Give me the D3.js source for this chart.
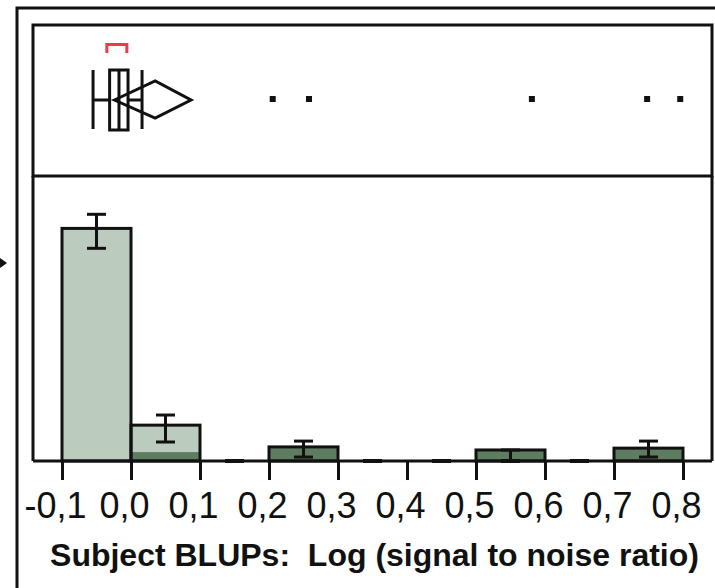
<!DOCTYPE html>
<html>
<head>
<meta charset="utf-8">
<script src="https://d3js.org/d3.v7.min.js"></script>
<style>
  body { margin: 0; background: #fff; }
  svg { display: block; font-family: "Liberation Sans", Arial, sans-serif; }
</style>
</head>
<body>
<svg id="chart" width="715" height="588"></svg>
<script>
// histogram bins (lower edge), width 0.1
var binStarts = [-0.1, 0.0, 0.1, 0.2, 0.3, 0.4, 0.5, 0.6, 0.7];
var binTotal  = [0.759, 0.117, 0, 0.046, 0, 0, 0.036, 0, 0.042];
var binDark   = [0, 0.029, 0, 0.046, 0, 0, 0.036, 0, 0.042];
var errLow    = [0.694, 0.062, 0, 0.013, 0, 0, 0, 0, 0.013];
var errHigh   = [0.805, 0.150, 0, 0.065, 0, 0, 0.036, 0, 0.065];

// outlier box plot summary
var boxStats = {lowWhisker: -0.055, q1: -0.031, median: -0.0174, q3: -0.0043, highWhisker: 0.016};
var meanDiamond = {lower: -0.024, mean: 0.035, upper: 0.087};
var shortestHalf = [-0.035, -0.006];
var outliers = [0.2054, 0.258, 0.581, 0.748, 0.796];

var tickValues = [-0.1, 0.0, 0.1, 0.2, 0.3, 0.4, 0.5, 0.6, 0.7, 0.8];
var axisTitle = "Subject BLUPs:  Log (signal to noise ratio)";

var svg;

document.addEventListener('DOMContentLoaded', function() {
  svg = d3.select('#chart');
  drawChart();
});

function drawChart() {
  var left = 33, right = 712, top = 25, split = 176, base = 461;
  var ink = "#111";

  var x = d3.scaleLinear()
    .domain([-0.1, 0.8])
    .range([62, 683]);

  var y = d3.scaleLinear()
    .domain([0, 0.93])
    .range([base, split]);

  var bins = binStarts.map(function(d, i) {
    return {lo: d, total: binTotal[i], dark: binDark[i], eLo: errLow[i], eHi: errHigh[i]};
  });

  // outer frame, cut off by the picture edge
  svg.append("path")
    .attr("d", "M17,588 V8 H715")
    .attr("fill", "none")
    .attr("stroke", ink)
    .attr("stroke-width", 3);

  // arrow from neighbouring panel
  svg.append("path")
    .attr("d", "M0,258 L7,263 L0,268 Z")
    .attr("fill", ink);

  // top panel frame
  svg.append("rect")
    .attr("x", left)
    .attr("y", top)
    .attr("width", right - left)
    .attr("height", split - top)
    .attr("fill", "none")
    .attr("stroke", ink)
    .attr("stroke-width", 3);

  // histogram panel sides
  svg.append("path")
    .attr("d", "M" + left + "," + base + " V" + split + " M" + right + "," + split + " V" + base)
    .attr("fill", "none")
    .attr("stroke", ink)
    .attr("stroke-width", 3);

  // bars
  var filled = bins.filter(function(d) { return d.total > 0; });

  svg.selectAll(".lightbar")
    .data(filled)
    .enter().append("rect")
    .attr("class", "lightbar")
    .attr("x", function(d) { return x(d.lo); })
    .attr("y", function(d) { return y(d.total); })
    .attr("width", function(d) { return x(d.lo + 0.1) - x(d.lo); })
    .attr("height", function(d) { return y(0) - y(d.total); })
    .attr("fill", "#bbcbbd");

  svg.selectAll(".darkbar")
    .data(filled.filter(function(d) { return d.dark > 0; }))
    .enter().append("rect")
    .attr("class", "darkbar")
    .attr("x", function(d) { return x(d.lo); })
    .attr("y", function(d) { return y(d.dark); })
    .attr("width", function(d) { return x(d.lo + 0.1) - x(d.lo); })
    .attr("height", function(d) { return y(0) - y(d.dark); })
    .attr("fill", "#5e7c60");

  svg.selectAll(".barframe")
    .data(filled)
    .enter().append("rect")
    .attr("class", "barframe")
    .attr("x", function(d) { return x(d.lo); })
    .attr("y", function(d) { return y(d.total); })
    .attr("width", function(d) { return x(d.lo + 0.1) - x(d.lo); })
    .attr("height", function(d) { return y(0) - y(d.total); })
    .attr("fill", "none")
    .attr("stroke", ink)
    .attr("stroke-width", 3);

  // baseline
  svg.append("line")
    .attr("x1", left).attr("x2", right)
    .attr("y1", base).attr("y2", base)
    .attr("stroke", ink)
    .attr("stroke-width", 3);

  // error bars
  var capW = 9.5;
  var err = svg.selectAll(".err")
    .data(bins)
    .enter().append("g")
    .attr("class", "err")
    .attr("stroke", ink)
    .attr("stroke-width", 3);

  err.append("line")
    .attr("x1", function(d) { return x(d.lo + 0.05); })
    .attr("x2", function(d) { return x(d.lo + 0.05); })
    .attr("y1", function(d) { return y(d.eLo); })
    .attr("y2", function(d) { return y(d.eHi); });

  err.append("line")
    .attr("x1", function(d) { return x(d.lo + 0.05) - capW; })
    .attr("x2", function(d) { return x(d.lo + 0.05) + capW; })
    .attr("y1", function(d) { return y(d.eHi); })
    .attr("y2", function(d) { return y(d.eHi); });

  err.append("line")
    .attr("x1", function(d) { return x(d.lo + 0.05) - capW; })
    .attr("x2", function(d) { return x(d.lo + 0.05) + capW; })
    .attr("y1", function(d) { return y(d.eLo); })
    .attr("y2", function(d) { return y(d.eLo); })
    .attr("stroke-width", function(d) { return d.eLo === 0 ? 4 : 3; });

  // x axis
  var locale = d3.formatLocale({decimal: ",", thousands: ".", grouping: [3], currency: ["", ""], minus: "-"});
  var fmt = locale.format(".1f");

  svg.append("g")
    .attr("transform", "translate(0," + base + ")")
    .call(d3.axisBottom(x)
      .tickValues(tickValues)
      .tickFormat(fmt)
      .tickSize(19)
      .tickSizeOuter(0))
    .call(g => g.select(".domain").remove())
    .call(g => g.selectAll(".tick line")
      .attr("stroke", ink)
      .attr("stroke-width", 3))
    .call(g => g.selectAll(".tick text")
      .attr("x", -7)
      .attr("y", 57)
      .attr("dy", 0)
      .attr("fill", ink)
      .attr("font-family", "'Liberation Sans', Arial, sans-serif")
      .attr("font-size", "36px"));

  svg.append("text")
    .attr("x", 374.5)
    .attr("y", 566)
    .attr("text-anchor", "middle")
    .attr("font-size", "32px")
    .attr("font-weight", "bold")
    .attr("fill", ink)
    .style("white-space", "pre")
    .text(axisTitle);

  // box plot panel
  var midY = 100;
  var box = svg.append("g")
    .attr("fill", "none")
    .attr("stroke", ink)
    .attr("stroke-width", 3);

  box.append("line")
    .attr("x1", x(boxStats.lowWhisker)).attr("x2", x(boxStats.q1))
    .attr("y1", midY).attr("y2", midY);
  box.append("line")
    .attr("x1", x(boxStats.q3)).attr("x2", x(boxStats.highWhisker))
    .attr("y1", midY).attr("y2", midY);
  box.append("line")
    .attr("x1", x(boxStats.lowWhisker)).attr("x2", x(boxStats.lowWhisker))
    .attr("y1", 70).attr("y2", 129);
  box.append("line")
    .attr("x1", x(boxStats.highWhisker)).attr("x2", x(boxStats.highWhisker))
    .attr("y1", 70).attr("y2", 129);
  box.append("rect")
    .attr("x", x(boxStats.q1))
    .attr("y", 70)
    .attr("width", x(boxStats.q3) - x(boxStats.q1))
    .attr("height", 60);
  box.append("line")
    .attr("x1", x(boxStats.median)).attr("x2", x(boxStats.median))
    .attr("y1", 70).attr("y2", 130);

  // means diamond
  var dm = x(meanDiamond.mean);
  box.append("path")
    .attr("d", "M" + x(meanDiamond.lower) + "," + midY +
               " L" + dm + "," + 81 +
               " L" + x(meanDiamond.upper) + "," + midY +
               " L" + dm + "," + 118 + " Z")
    .attr("stroke-linejoin", "miter");

  // shortest half bracket
  svg.append("path")
    .attr("d", "M" + x(shortestHalf[0]) + ",53 V44.5 H" + x(shortestHalf[1]) + " V53")
    .attr("fill", "none")
    .attr("stroke", "#ee3a4e")
    .attr("stroke-width", 3);

  // outlier points
  svg.selectAll(".outlier")
    .data(outliers)
    .enter().append("rect")
    .attr("class", "outlier")
    .attr("x", function(d) { return x(d) - 3; })
    .attr("y", midY - 4)
    .attr("width", 6)
    .attr("height", 6)
    .attr("fill", ink);
}
</script>
</body>
</html>
